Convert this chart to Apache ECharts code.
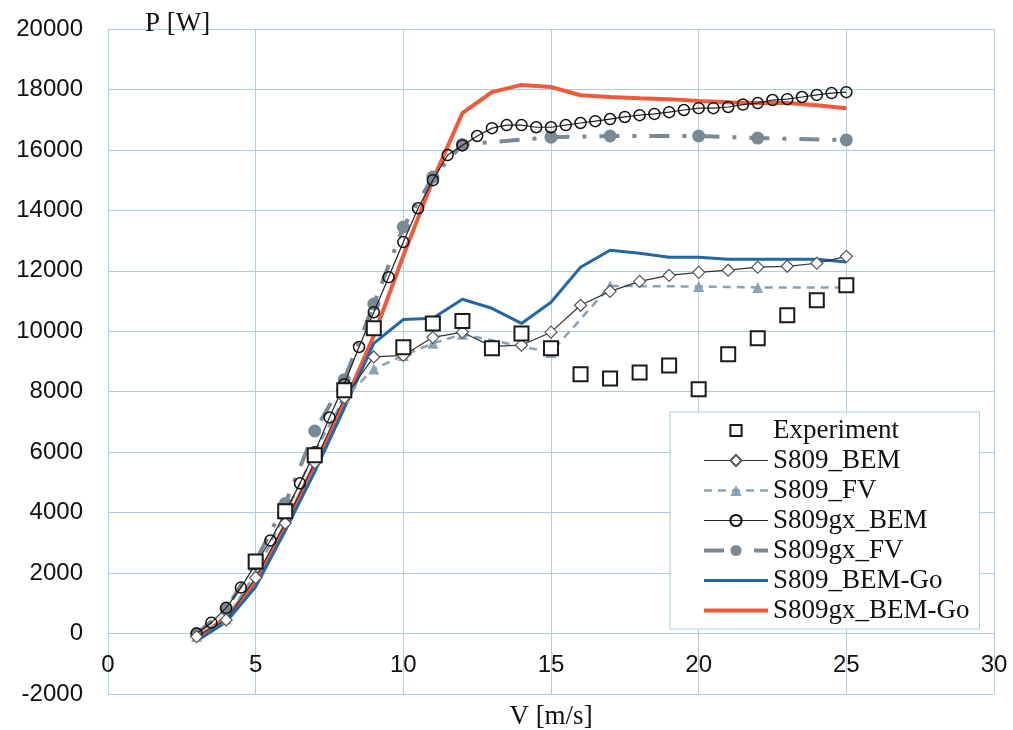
<!DOCTYPE html>
<html><head><meta charset="utf-8">
<script src="https://cdn.jsdelivr.net/npm/echarts@6/dist/echarts.min.js"></script>
<style>html,body{margin:0;padding:0;background:#fff}#c{width:1013px;height:730px}</style>
</head><body><div id="c"></div>
<script>
// Experiment
const expV = [5,6,7,8,9,10,11,12,13,14,15,16,17,18,19,20,21,22,23,24,25];
const expP = [2380,4050,5900,8050,10100,9470,10260,10340,9440,9930,9440,8580,8440,8640,8870,8080,9240,9770,10530,11030,11520];
// S809_BEM
const bemV = [3,4,5,6,7,8,9,10,11,12,13,14,15,16,17,18,19,20,21,22,23,24,25];
const bemP = [-100,450,1850,3650,5650,7800,9150,9200,9800,9970,9500,9540,9970,10860,11320,11650,11850,11950,12020,12120,12150,12250,12480];
// S809_FV
const fvV = [3,4,5,6,7,8,9,10,11,12,15,17,20,22,25];
const fvP = [-100,480,2000,3950,6000,7800,8750,9200,9600,9900,9300,11500,11480,11450,11450];
// S809gx_BEM
const gxBemV = [3,3.5,4,4.5,5,5.5,6,6.5,7,7.5,8,8.5,9,9.5,10,10.5,11,11.5,12,12.5,13,13.5,14,14.5,15,15.5,16,16.5,17,17.5,18,18.5,19,19.5,20,20.5,21,21.5,22,22.5,23,23.5,24,24.5,25];
const gxBemP = [0,360,850,1520,2300,3080,4000,4970,6000,7150,8250,9480,10630,11790,12950,14070,15000,15830,16150,16460,16720,16820,16820,16750,16750,16820,16890,16950,17020,17090,17150,17190,17250,17320,17380,17380,17420,17500,17550,17650,17680,17750,17820,17880,17910];
// S809gx_FV
const gxFvV = [3,4,5,6,7,8,9,10,11,12,15,17,20,22,25];
const gxFvP = [0,800,2400,4300,6700,8400,10900,13450,15100,16180,16420,16460,16460,16390,16330];
// BEM-Go
const goV = [3,4,5,6,7,8,9,10,11,12,13,14,15,16,17,18,19,20,21,22,23,24,25];
const goP = [-250,380,1550,3400,5350,7450,9600,10390,10430,11060,10760,10260,10960,12120,12680,12580,12450,12450,12380,12380,12380,12380,12290];
const gxGoP = [-150,530,1700,3600,5600,7600,9850,12500,15000,17220,17910,18150,18080,17810,17750,17710,17680,17620,17580,17550,17550,17480,17380];

const xTicks = [0,5,10,15,20,25,30];
const yTicks = [-2000,0,2000,4000,6000,8000,10000,12000,14000,16000,18000,20000];

const zip = (a,b) => a.map((v,i)=>[v,b[i]]);
const SERIF = 'Liberation Serif';
const SANS = 'Liberation Sans';
const TXT = '#111';
const GRID = '#a9cfe3';

const chart = echarts.init(document.getElementById('c'), null, {renderer:'canvas'});
chart.setOption({
  animation:false,
  backgroundColor:'#fff',
  textStyle:{fontFamily:SERIF},
  grid:{left:108,right:19,top:29,bottom:36,containLabel:false,outerBoundsMode:'none'},
  xAxis:{
    type:'value', min:xTicks[0], max:xTicks[xTicks.length-1], interval:5,
    offset:-61,
    name:'V [m/s]', nameLocation:'middle', nameGap:70,
    nameTextStyle:{fontFamily:SERIF,fontSize:27,color:TXT},
    axisLine:{show:true,onZero:false,lineStyle:{color:GRID,width:1}},
    axisTick:{show:false},
    axisLabel:{fontFamily:SANS,fontSize:24,color:TXT,margin:20,formatter:v=>String(v)},
    splitLine:{show:true,lineStyle:{color:GRID,width:1}}
  },
  yAxis:{
    type:'value', min:yTicks[0], max:yTicks[yTicks.length-1], interval:2000,
    name:'P [W]', nameLocation:'end', nameGap:5,
    nameTextStyle:{fontFamily:SERIF,fontSize:27,color:TXT,align:'left',verticalAlign:'middle',padding:[0,4,0,37]},
    axisLine:{show:true,onZero:false,lineStyle:{color:GRID,width:1}},
    axisTick:{show:false},
    axisLabel:{fontFamily:SANS,fontSize:24,color:TXT,margin:25,formatter:v=>String(v)},
    splitLine:{show:true,lineStyle:{color:GRID,width:1}}
  },
  legend:{
    orient:'vertical', left:670, top:412,
    padding:[5,10,5,32], itemGap:3, itemWidth:64, itemHeight:14,
    backgroundColor:'#fff', borderColor:GRID, borderWidth:1, borderRadius:0,
    textStyle:{fontFamily:SERIF,fontSize:27,lineHeight:26,color:TXT},
    lineStyle:{width:'inherit'},
    data:['Experiment','S809_BEM','S809_FV','S809gx_BEM','S809gx_FV','S809_BEM-Go','S809gx_BEM-Go']
  },
  series:[
    {name:'S809gx_BEM-Go',type:'line',z:2,data:zip(goV,gxGoP),symbol:'circle',showSymbol:false,
     itemStyle:{color:'rgba(0,0,0,0)'},lineStyle:{color:'#ef5a3b',width:4}},
    {name:'S809_BEM-Go',type:'line',z:2,data:zip(goV,goP),symbol:'circle',showSymbol:false,
     itemStyle:{color:'rgba(0,0,0,0)'},lineStyle:{color:'#2467a6',width:3}},
    {name:'S809gx_FV',type:'line',z:3,data:zip(gxFvV,gxFvP),symbol:'circle',symbolSize:13,showAllSymbol:true,
     itemStyle:{color:'#7b8994'},lineStyle:{color:'#7b8994',width:4,type:[20,13,4,13]}},
    {name:'S809_FV',type:'line',z:3,data:zip(fvV,fvP),symbol:'triangle',symbolSize:11,showAllSymbol:true,
     itemStyle:{color:'#8aa2b4'},lineStyle:{color:'#8aa2b4',width:2.5,type:[8,6]}},
    {name:'S809gx_BEM',type:'line',z:4,data:zip(gxBemV,gxBemP),symbol:'circle',symbolSize:11,showAllSymbol:true,
     itemStyle:{color:'rgba(255,255,255,0)',borderColor:'#111',borderWidth:1.5},lineStyle:{color:'#222',width:1.2}},
    {name:'S809_BEM',type:'line',z:4,data:zip(bemV,bemP),symbol:'diamond',symbolSize:12,showAllSymbol:true,
     itemStyle:{color:'#fff',borderColor:'#555',borderWidth:1.2},lineStyle:{color:'#333',width:1.2}},
    {name:'Experiment',type:'line',z:5,data:zip(expV,expP),symbol:'rect',symbolSize:14,showAllSymbol:true,
     itemStyle:{color:'#fff',borderColor:'#1a1a1a',borderWidth:2},lineStyle:{width:0,opacity:0}}
  ]
});
</script></body></html>
